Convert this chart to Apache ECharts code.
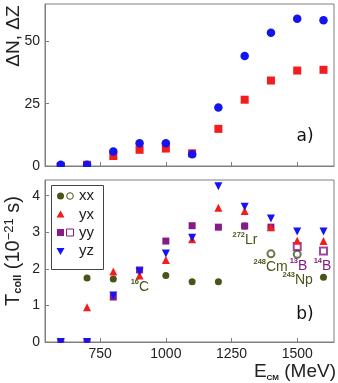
<!DOCTYPE html>
<html>
<head>
<meta charset="utf-8">
<script src="https://cdn.jsdelivr.net/npm/echarts@6/dist/echarts.min.js"></script>
<style>
html,body{margin:0;padding:0;background:#fff}
#main{width:338px;height:383px}
</style>
</head>
<body>
<div id="main"></div>
<script>
// energies (MeV)
var energies = [600, 700, 800, 900, 1000, 1100, 1200, 1300, 1400, 1500, 1600];
// panel a)
var dN = [0.5, 0.5, 5.8, 9.1, 9.1, 4.7, 23.5, 44.1, 53.5, 59.1, 58.5];
var dZ = [0, 0.5, 4.0, 6.5, 7.0, 5.1, 14.9, 26.6, 34.3, 38.3, 38.6];
// panel b) contact times
var xxFull = [null, 1.75, 1.72, null, 1.82, 1.65, 1.65, 3.17, null, null, 1.77];
var xxOpen = [null, null, null, null, null, null, null, null, 2.41, 2.40, null];
var yx = [null, 0.95, 1.93, 1.82, 2.24, 2.81, 3.67, 3.58, 3.14, 2.77, 2.76];
var yyFull = [0, 0, 1.23, 1.97, 2.76, 3.18, 3.14, 3.17, 3.14, null, null];
var yyOpen = [null, null, null, null, null, null, null, null, null, 2.61, 2.49];
var yz = [0, 0, 1.27, 1.93, 2.42, 2.85, 4.26, 3.70, 3.38, 3.02, 3.02];
var xTicks = [750, 1000, 1250, 1500];
var yTicksA = [0, 25, 50];
var yTicksB = [0, 1, 2, 3, 4];

var OLIVE = '#4b5318', RED = '#f41c1c', PURPLE = '#861a86', BLUE = '#1414f0';
var AXC = '#7f7f7f', TXT = '#222';
var FONT = 'Liberation Sans';

function pairs(arr) {
    var out = [];
    for (var i = 0; i < energies.length; i++) {
        if (arr[i] != null) out.push([energies[i], arr[i]]);
    }
    return out;
}
function plain(v) { return String(v); }

function xAxisDef(idx, withLabels) {
    return {
        type: 'value', gridIndex: idx, min: 540, max: 1640,
        axisLine: {lineStyle: {color: AXC}},
        axisTick: {inside: true, length: 4, customValues: xTicks, lineStyle: {color: AXC}},
        axisLabel: {show: withLabels, customValues: xTicks, formatter: plain, color: TXT, fontSize: 14, fontFamily: FONT, margin: 5},
        splitLine: {show: false}
    };
}
function yAxisDef(idx, max, ticks) {
    return {
        type: 'value', gridIndex: idx, min: 0, max: max,
        axisLine: {show: true, lineStyle: {color: AXC}},
        axisTick: {show: true, inside: true, length: 4, customValues: ticks, lineStyle: {color: AXC}},
        axisLabel: {customValues: ticks, formatter: plain, color: TXT, fontSize: 14, fontFamily: FONT, margin: 5},
        splitLine: {show: false}
    };
}
function sc(name, xi, data, symbol, size, color, extra) {
    var s = {
        name: name, type: 'scatter', xAxisIndex: xi, yAxisIndex: xi,
        data: pairs(data), symbol: symbol, symbolSize: size,
        itemStyle: {color: color, opacity: 1}, silent: true
    };
    for (var k in extra) s[k] = extra[k];
    return s;
}

// nucleus label: mass number as superscript left of the symbol
function note(mass, sym, x, y, color) {
    return [
        {type: 'text', x: x, y: y - 5, z: 50,
            style: {text: mass, fill: color, font: 'bold 7.5px ' + FONT, align: 'right', verticalAlign: 'middle'}},
        {type: 'text', x: x, y: y, z: 50,
            style: {text: sym, fill: color, font: '14px ' + FONT, align: 'left', verticalAlign: 'middle'}}
    ];
}

var legendRows = [196, 214.5, 232.5, 251];
var graphics = [
    // hide the lower half of markers sitting on the x axis
    {type: 'rect', z: 100, shape: {x: 46, y: 167, width: 287, height: 5}, style: {fill: '#fff'}},
    {type: 'rect', z: 100, shape: {x: 46, y: 343, width: 287, height: 4}, style: {fill: '#fff'}},
    // axis titles
    {type: 'text', x: 14, y: 36, rotation: Math.PI / 2, z: 50,
        style: {text: 'ΔN, ΔZ', fill: TXT, font: '19px ' + FONT, align: 'center', verticalAlign: 'middle'}},
    {type: 'text', x: 13, y: 251, rotation: Math.PI / 2, z: 50,
        style: {
            text: '{m|T}{sub|coll}{m| (10}{sup|−21}{m| s)}', fill: TXT, align: 'center', verticalAlign: 'middle',
            rich: {
                m: {fontSize: 20, fontFamily: FONT, verticalAlign: 'top', lineHeight: 20, fill: TXT},
                sub: {fontSize: 11, fontWeight: 'bold', fontFamily: FONT, verticalAlign: 'bottom', lineHeight: 12, fill: TXT},
                sup: {fontSize: 13, fontFamily: FONT, verticalAlign: 'top', lineHeight: 13, fill: TXT}
            }
        }},
    {type: 'text', x: 336, y: 372, z: 50,
        style: {
            text: '{m|E}{sub|CM}{m| (MeV)}', fill: TXT, align: 'right', verticalAlign: 'middle',
            rich: {
                m: {fontSize: 19, fontFamily: FONT, verticalAlign: 'top', lineHeight: 19, fill: TXT},
                sub: {fontSize: 8, fontWeight: 'bold', fontFamily: FONT, verticalAlign: 'bottom', lineHeight: 8, fill: TXT}
            }
        }},
    // panel tags
    {type: 'text', x: 305, y: 137, z: 50, style: {text: 'a)', fill: '#111', font: '17px DejaVu Sans', align: 'center', verticalAlign: 'middle'}},
    {type: 'text', x: 305, y: 315, z: 50, style: {text: 'b)', fill: '#111', font: '17px DejaVu Sans', align: 'center', verticalAlign: 'middle'}},
    // legend box
    {type: 'rect', z: 40, shape: {x: 51.5, y: 185.5, width: 52, height: 84}, style: {fill: '#fff', stroke: '#444', lineWidth: 1}},
    {type: 'circle', z: 41, shape: {cx: 60.5, cy: legendRows[0], r: 3.5}, style: {fill: OLIVE}},
    {type: 'circle', z: 41, shape: {cx: 70, cy: legendRows[0], r: 3.3}, style: {fill: 'none', stroke: OLIVE, lineWidth: 1}},
    {type: 'polygon', z: 41, shape: {points: [[60.5, legendRows[1] - 4], [64.5, legendRows[1] + 3], [56.5, legendRows[1] + 3]]}, style: {fill: RED}},
    {type: 'rect', z: 41, shape: {x: 57, y: legendRows[2] - 3.5, width: 7, height: 7}, style: {fill: PURPLE}},
    {type: 'rect', z: 41, shape: {x: 66.5, y: legendRows[2] - 3.5, width: 7, height: 7}, style: {fill: 'none', stroke: PURPLE, lineWidth: 1}},
    {type: 'polygon', z: 41, shape: {points: [[60.5, legendRows[3] + 4], [64.5, legendRows[3] - 3], [56.5, legendRows[3] - 3]]}, style: {fill: BLUE}}
];
['xx', 'yx', 'yy', 'yz'].forEach(function (t, i) {
    graphics.push({type: 'text', z: 41, x: 79, y: legendRows[i],
        style: {text: t, fill: TXT, font: '15px ' + FONT, align: 'left', verticalAlign: 'middle'}});
});
// nuclei annotations
graphics = graphics.concat(
    note('16', 'C', 139, 287, OLIVE),
    note('272', 'Lr', 245, 240, OLIVE),
    note('248', 'Cm', 266, 267, OLIVE),
    note('243', 'Np', 295, 280, OLIVE),
    note('13', 'B', 298, 266, PURPLE),
    note('14', 'B', 322, 266, PURPLE)
);

var myChart = echarts.init(document.getElementById('main'));
myChart.setOption({
    animation: false,
    backgroundColor: '#fff',
    grid: [
        {left: 45, top: 4, width: 289, height: 162, show: true, borderColor: AXC, borderWidth: 1},
        {left: 45, top: 180, width: 289, height: 162, show: true, borderColor: AXC, borderWidth: 1}
    ],
    xAxis: [xAxisDef(0, false), xAxisDef(1, true)],
    yAxis: [yAxisDef(0, 65, yTicksA), yAxisDef(1, 4.43, yTicksB)],
    series: [
        sc('dZ', 0, dZ, 'rect', 8, RED),
        sc('dN', 0, dN, 'circle', 8.5, BLUE),
        sc('xx', 1, xxFull, 'circle', 7, OLIVE),
        sc('xx open', 1, xxOpen, 'emptyCircle', 7, OLIVE, {itemStyle: {color: OLIVE, borderWidth: 1}}),
        sc('yy', 1, yyFull, 'rect', 7, PURPLE),
        sc('yy open', 1, yyOpen, 'emptyRect', 7, PURPLE, {itemStyle: {color: PURPLE, borderWidth: 1}}),
        sc('yx', 1, yx, 'triangle', 8, RED),
        sc('yz', 1, yz, 'triangle', 8, BLUE, {symbolRotate: 180})
    ],
    graphic: graphics
});
</script>
</body>
</html>
